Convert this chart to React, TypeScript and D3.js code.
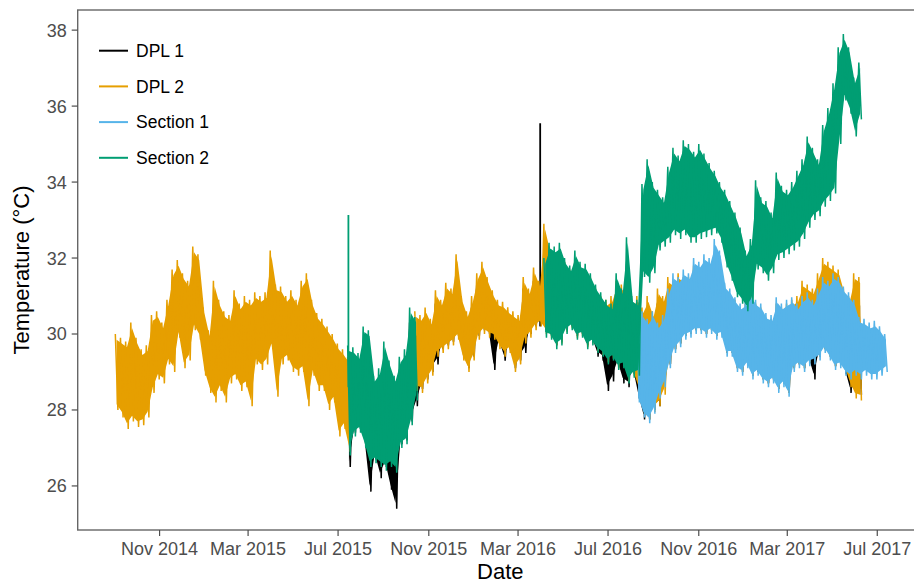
import React from 'react';
import * as d3 from 'd3';

// ---------- data (weekly high / low envelope) ----------
const WEEK0 = '2014-09-02'; // week index 0
const SERIES = ['DPL 1', 'DPL 2', 'Section 1', 'Section 2'];
const COLORS = ['#000000', '#E69F00', '#56B4E9', '#009E73'];

const X_TICKS = ['2014-11-01', '2015-03-01', '2015-07-01', '2015-11-01', '2016-03-01', '2016-07-01', '2016-11-01', '2017-03-01', '2017-07-01'];
const X_TICK_LABELS = ['Nov 2014', 'Mar 2015', 'Jul 2015', 'Nov 2015', 'Mar 2016', 'Jul 2016', 'Nov 2016', 'Mar 2017', 'Jul 2017'];
const Y_TICKS = [26, 28, 30, 32, 34, 36, 38];
const X_DOMAIN = ['2014-07-13', '2017-09-01'];
const Y_DOMAIN = [24.84, 38.53];

// isolated single-reading spikes
const SPIKE_SERIES = [3, 0];
const SPIKE_DATES = ['2015-07-15', '2016-03-31'];
const SPIKE_LO = [28.6, 30.2];
const SPIKE_HI = [33.13, 35.55];

// DPL 1 (weeks 45-144)
const DPL1_START = 45;
const DPL1_HI = [
  29.0, 29.3, 29.2, 29.5, 29.4, 28.6, 28.8, 29.4, 29.0, 28.6,
  29.0, 29.2, 30.3, 30.1, 30.2, 30.4, 30.2, 30.8, 30.6, 31.0,
  30.9, 31.7, 30.7, 30.3, 30.7, 31.3, 31.6, 31.2, 30.9, 30.6,
  30.5, 30.4, 30.3, 30.2, 31.2, 30.9, 31.4, 31.1, 31.5, 32.0,
  31.8, 31.6, 31.7, 31.5, 31.8, 31.5, 31.3, 31.4, 31.0, 30.8,
  30.7, 30.5, 31.0, 31.0, 30.8, 30.5, 30.6, 30.3, 30.6, 30.3,
  30.8, 30.6, 31.1, 31.0, 31.2, 31.2, 31.3, 31.5, 31.4, 31.6,
  31.6, 31.5, 31.4, 30.9, 30.7, 30.6, 30.5, 30.4, 30.5, 30.6,
  30.4, 30.2, 30.3, 30.3, 30.5, 30.4, 30.5, 30.7, 31.0, 30.9,
  30.8, 31.2, 31.5, 31.4, 31.3, 31.0, 30.8, 30.6, 31.0, 30.9,
];
const DPL1_LO = [
  26.5, 27.4, 27.5, 27.1, 25.85, 26.7, 26.2, 26.5, 25.9, 25.4,
  27.1, 27.2, 27.7, 28.1, 28.55, 28.8, 29.0, 29.2, 29.6, 29.7,
  29.8, 29.95, 29.4, 29.1, 29.4, 29.95, 30.1, 30.0, 29.05, 29.7,
  29.3, 29.6, 29.1, 29.3, 29.5, 30.0, 30.2, 30.3, 30.1, 29.95,
  29.7, 29.8, 30.1, 30.2, 29.95, 30.0, 29.7, 29.8, 29.4, 29.3,
  28.5, 28.75, 29.15, 28.7, 28.6, 28.95, 28.3, 27.75, 27.75, 28.0,
  28.1, 28.7, 29.2, 29.6, 29.75, 29.95, 30.0, 30.1, 30.1, 30.0,
  30.1, 29.95, 30.0, 29.5, 29.5, 29.1, 29.0, 29.2, 28.9, 29.0,
  28.8, 28.7, 28.8, 28.55, 28.7, 28.45, 29.1, 29.2, 29.1, 29.25,
  28.8, 29.4, 29.6, 29.4, 29.15, 29.2, 28.95, 28.45, 28.45, 28.4,
];

// DPL 2, first run (weeks 0-45)
const DPL2_A_START = 0;
const DPL2_A_HI = [
  30.0, 29.9, 29.8, 30.3, 29.9, 29.6, 29.7, 30.5, 30.6, 30.3,
  30.9, 31.7, 31.95, 31.6, 31.4, 32.3, 32.1, 30.7, 30.1, 31.4,
  30.9, 30.6, 30.5, 31.15, 30.8, 31.0, 30.9, 31.1, 31.0, 31.1,
  32.2, 31.3, 31.25, 31.0, 31.15, 30.9, 31.4, 31.6, 30.9, 30.55,
  30.4, 30.2, 30.0, 29.75, 29.6, 29.4,
];
const DPL2_A_LO = [
  28.0, 27.8, 27.5, 27.7, 27.55, 27.6, 27.8, 28.45, 28.8, 28.7,
  29.2, 29.0, 29.9, 29.1, 29.3, 30.1, 29.85, 28.9, 28.45, 28.2,
  28.5, 28.2, 28.7, 28.8, 28.5, 28.6, 28.1, 29.2, 29.05, 29.2,
  29.6, 28.35, 29.2, 29.3, 29.0, 28.9, 29.0, 28.1, 28.9, 28.5,
  28.5, 28.0, 28.2, 27.3, 27.5, 26.9,
];

// DPL 2, second run (weeks 58-144)
const DPL2_B_START = 58;
const DPL2_B_HI = [
  30.6, 30.5, 30.7, 30.4, 31.15, 30.9, 31.35, 31.2, 32.1, 31.0,
  30.6, 31.0, 31.6, 31.9, 31.5, 31.15, 30.9, 30.85, 30.7, 30.6,
  30.5, 31.5, 31.2, 31.75, 31.4,
  32.9, 32.3, 32.1, 32.2, 31.9, 31.7, 32.0, 31.8, 31.7, 31.5,
  31.2, 31.0, 30.9, 31.0, 31.4, 31.3, 31.2, 30.9, 31.0,
  30.7, 31.0, 30.6, 31.2, 31.0, 31.5, 31.4, 31.6, 31.5, 31.5,
  31.8, 31.7, 31.9, 31.8, 31.9, 31.8, 31.2, 31.0, 30.9, 30.7,
  30.8, 30.9, 30.8, 30.7, 30.4, 30.4, 30.8, 30.7, 30.8, 30.9,
  31.0, 31.4, 31.3, 31.2, 31.6, 32.0, 31.9, 31.8, 31.7, 31.2,
  31.0, 31.6, 31.5,
];
const DPL2_B_LO = [
  28.5, 28.45, 28.7, 28.9, 29.4, 29.5, 29.6, 29.7, 29.85, 29.3,
  29.0, 29.3, 29.85, 30.0, 29.9, 29.85, 29.6, 29.4, 29.5, 29.0,
  29.2, 29.75, 29.9, 30.1, 30.2,
  30.0, 29.9, 29.7, 29.75, 30.05, 30.15, 29.9, 29.95, 29.65, 29.75,
  29.55, 29.45, 29.25, 29.35, 29.1, 29.15, 28.75, 28.9, 28.5,
  27.9, 27.75, 27.95, 28.1, 28.4, 29.2, 29.6, 29.75, 29.95, 30.0,
  30.1, 30.1, 30.0, 30.1, 29.95, 30.0, 29.5, 29.5, 29.1, 29.0,
  29.2, 28.9, 29.0, 28.8, 28.7, 28.8, 28.55, 28.7, 28.45, 29.1,
  29.2, 29.1, 29.25, 29.3, 29.4, 29.6, 29.4, 29.15, 29.2, 29.0,
  28.6, 28.3, 28.25,
];

// Section 1 (weeks 101-149)
const SEC1_START = 101;
const SEC1_HI = [
  30.2, 30.6, 30.4, 30.6, 30.3, 30.5, 31.2, 31.6, 31.5, 31.7,
  31.6, 32.0, 31.9, 32.1, 32.0, 32.5, 32.2, 31.35, 31.2, 30.97,
  30.8, 30.9, 31.1, 30.9, 30.8, 30.55, 30.5, 30.97, 30.8, 30.9,
  30.97, 30.8, 31.0, 31.1, 30.9, 31.2, 31.5, 31.4, 31.6, 31.5,
  31.25, 31.1, 30.9, 30.45, 30.4, 30.3, 30.35, 30.2, 30.0,
];
const SEC1_LO = [
  28.2, 27.8, 27.65, 27.9, 28.3, 28.6, 29.1, 29.5, 29.65, 29.85,
  29.9, 30.0, 30.0, 29.9, 30.0, 29.85, 29.9, 29.4, 29.4, 29.0,
  28.9, 29.1, 28.8, 28.9, 28.7, 28.6, 28.7, 28.45, 28.6, 28.35,
  29.0, 29.1, 29.0, 29.15, 29.2, 29.3, 29.5, 29.3, 29.05, 29.1,
  28.9, 28.8, 28.9, 28.8, 28.9, 28.8, 28.8, 28.9, 29.0,
];

// Section 2, first run (weeks 45-58)
const SEC2_A_START = 45;
const SEC2_A_HI = [29.7, 29.65, 29.5, 30.2, 30.1, 28.9, 29.1, 29.8, 29.3, 28.9, 29.4, 29.6, 30.7, 30.45];
const SEC2_A_LO = [26.8, 27.3, 27.4, 27.0, 26.5, 26.6, 26.5, 26.4, 26.5, 26.35, 27.0, 27.1, 27.6, 28.25];

// Section 2, second run (weeks 83-144)
const SEC2_B_START = 83;
const SEC2_B_HI = [
  32.0, 32.4, 32.3, 32.4, 32.0, 31.8, 32.2, 31.9, 31.85, 31.6,
  31.3, 31.1, 30.9, 30.8, 31.6, 31.2, 32.55, 31.0, 30.9, 33.95,
  34.6, 34.0, 33.8, 33.6, 34.4, 34.9, 34.7, 35.1, 35.0, 34.8,
  35.0, 34.75, 34.5, 34.3, 34.0, 33.8, 33.5, 33.2, 32.8, 32.2,
  32.5, 34.05, 33.6, 33.5, 33.2, 34.25, 33.9, 33.8, 34.0, 34.3,
  34.6, 35.2, 34.9, 34.6, 35.5, 35.95, 36.6, 37.55, 37.9, 37.55,
  36.75, 37.15,
];
const SEC2_B_LO = [
  29.9, 29.85, 29.6, 29.7, 30.0, 30.1, 29.85, 29.9, 29.6, 29.7,
  29.5, 29.4, 29.2, 29.3, 29.05, 29.1, 28.7, 28.85, 28.9, 31.5,
  31.35, 31.6, 32.2, 32.3, 32.4, 32.6, 32.5, 32.6, 32.4, 32.4,
  32.5, 32.55, 32.6, 32.65, 32.4, 31.75, 31.4, 30.97, 30.8, 30.6,
  30.8, 31.7, 31.6, 31.4, 31.6, 31.95, 32.0, 32.1, 32.2, 32.3,
  32.5, 32.8, 33.0, 33.1, 33.35, 33.5, 33.7, 35.0, 36.15, 35.8,
  35.2, 35.65,
];

// ---------- layout ----------
const W = 914;
const H = 585;
const M = { left: 77.7, right: 923, top: 10, bottom: 530 };
const FONT = '"Liberation Sans", Arial, Helvetica, sans-serif';

const DAY = 86400000;
const parse = (s: string) => new Date(s + 'T00:00:00Z');

type Seg = { series: number; start: number; hi: number[]; lo: number[] };
const SEGMENTS: Seg[] = [
  { series: 0, start: DPL1_START, hi: DPL1_HI, lo: DPL1_LO },
  { series: 1, start: DPL2_A_START, hi: DPL2_A_HI, lo: DPL2_A_LO },
  { series: 1, start: DPL2_B_START, hi: DPL2_B_HI, lo: DPL2_B_LO },
  { series: 2, start: SEC1_START, hi: SEC1_HI, lo: SEC1_LO },
  { series: 3, start: SEC2_A_START, hi: SEC2_A_HI, lo: SEC2_A_LO },
  { series: 3, start: SEC2_B_START, hi: SEC2_B_HI, lo: SEC2_B_LO },
];

export default function App() {
  const x = d3.scaleUtc().domain(X_DOMAIN.map(parse)).range([M.left, M.right]);
  const y = d3.scaleLinear().domain(Y_DOMAIN).range([M.bottom, M.top]);
  const w0 = parse(WEEK0).getTime();

  const line = d3
    .line<[number, number]>()
    .x((d) => x(new Date(d[0])))
    .y((d) => y(d[1]));

  const area = d3
    .area<[number, number, number]>()
    .x((d) => x(new Date(d[0])))
    .y0((d) => y(d[1]))
    .y1((d) => y(d[2]));

  const renderSeries = (si: number) => {
    const out: React.ReactNode[] = [];
    SEGMENTS.forEach((s, k) => {
      if (s.series !== si) return;
      const pts: [number, number][] = [];
      const band: [number, number, number][] = [];
      s.hi.forEach((h, j) => {
        const t = w0 + (s.start + j) * 7 * DAY;
        pts.push([t, h]);
        pts.push([t + 3.5 * DAY, s.lo[j]]);
        band.push([t + 1.75 * DAY, s.lo[j] + 0.15, h - 0.15]);
      });
      const c = COLORS[s.series];
      out.push(
        <g key={'s' + k}>
          {band.length > 1 && <path d={area(band) || ''} fill={c} stroke="none" />}
          <path d={line(pts) || ''} fill="none" stroke={c} strokeWidth={1.5} strokeLinejoin="miter" />
        </g>
      );
    });
    SPIKE_SERIES.forEach((sp, k) => {
      if (sp !== si) return;
      const d = parse(SPIKE_DATES[k]);
      out.push(
        <line
          key={'p' + k}
          x1={x(d)}
          x2={x(d)}
          y1={y(SPIKE_LO[k])}
          y2={y(SPIKE_HI[k])}
          stroke={COLORS[sp]}
          strokeWidth={1.8}
        />
      );
    });
    return <g key={si}>{out}</g>;
  };

  const xTicks = X_TICKS.map(parse);

  return (
    <svg
      width={W}
      height={H}
      style={{ position: 'absolute', left: 0, top: 0, background: '#fff' }}
      fontFamily={FONT}
    >
      <rect x={0} y={0} width={W} height={H} fill="#fff" />
      <defs>
        <clipPath id="panel">
          <rect x={M.left} y={M.top} width={M.right - M.left} height={M.bottom - M.top} />
        </clipPath>
      </defs>
      <g clipPath="url(#panel)">{SERIES.map((_, i) => renderSeries(i))}</g>

      {/* panel border */}
      <rect
        x={M.left}
        y={M.top}
        width={M.right - M.left}
        height={M.bottom - M.top}
        fill="none"
        stroke="#666666"
        strokeWidth={1.4}
      />

      {/* y axis */}
      {Y_TICKS.map((v) => (
        <g key={v}>
          <line x1={M.left - 6} x2={M.left} y1={y(v)} y2={y(v)} stroke="#4d4d4d" strokeWidth={1.2} />
          <text x={M.left - 11} y={y(v)} dy="0.36em" textAnchor="end" fontSize={18} fill="#4d4d4d">
            {v}
          </text>
        </g>
      ))}

      {/* x axis */}
      {xTicks.map((t, i) => (
        <g key={i}>
          <line x1={x(t)} x2={x(t)} y1={M.bottom} y2={M.bottom + 6} stroke="#4d4d4d" strokeWidth={1.2} />
          <text x={x(t)} y={555} textAnchor="middle" fontSize={18} fill="#4d4d4d">
            {X_TICK_LABELS[i]}
          </text>
        </g>
      ))}

      {/* axis titles */}
      <text x={(M.left + M.right) / 2} y={579} textAnchor="middle" fontSize={22} fill="#000">
        Date
      </text>
      <text
        transform={`translate(29, ${(M.top + M.bottom) / 2}) rotate(-90)`}
        textAnchor="middle"
        fontSize={22}
        fill="#000"
      >
        Temperature (°C)
      </text>

      {/* legend */}
      {SERIES.map((s, i) => {
        const ly = 50.7 + i * 35.7;
        return (
          <g key={s}>
            <line x1={99} x2={128} y1={ly} y2={ly} stroke={COLORS[i]} strokeWidth={2} />
            <text x={136} y={ly} dy="0.36em" fontSize={17.5} fill="#000">
              {s}
            </text>
          </g>
        );
      })}
    </svg>
  );
}
